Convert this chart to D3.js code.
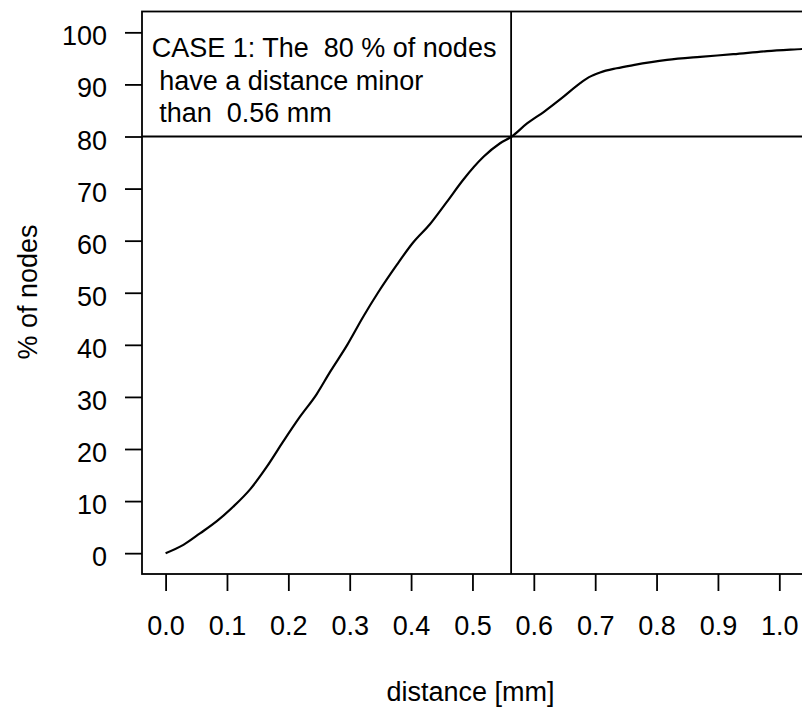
<!DOCTYPE html>
<html>
<head>
<meta charset="utf-8">
<script src="https://cdn.jsdelivr.net/npm/d3@7"></script>
<style>
  html, body { margin: 0; padding: 0; background: #fff; }
  svg text { font-family: "Liberation Sans", Arial, sans-serif; fill: #000; white-space: pre; }
</style>
</head>
<body>
<svg id="chart" width="802" height="709"></svg>
<script>
// ---- data ----
const distance = [0.000, 0.029, 0.056, 0.083, 0.110, 0.138, 0.165, 0.192, 0.219, 0.246,
  0.268, 0.296, 0.322, 0.346, 0.377, 0.403, 0.431, 0.458, 0.485, 0.518, 0.545, 0.564,
  0.589, 0.616, 0.648, 0.675, 0.690, 0.708, 0.735, 0.762, 0.817, 0.871, 0.925, 0.980, 1.037, 1.080];
const pctNodes = [0.0, 1.6, 3.8, 6.1, 8.9, 12.3, 16.6, 21.5, 26.2, 30.5,
  34.8, 40.0, 45.4, 50.0, 55.4, 59.6, 63.2, 67.4, 71.7, 76.1, 78.7, 80.0,
  82.5, 84.7, 87.6, 90.2, 91.4, 92.3, 93.1, 93.7, 94.7, 95.3, 95.8, 96.4, 96.8, 97.1];
const xTicks = [0.0, 0.1, 0.2, 0.3, 0.4, 0.5, 0.6, 0.7, 0.8, 0.9, 1.0];
const yTicks = [0, 10, 20, 30, 40, 50, 60, 70, 80, 90, 100];
const thresholdX = 0.563;
const thresholdY = 80;
const noteLines = ["CASE 1: The  80 % of nodes", " have a distance minor", " than  0.56 mm"];
const xTitle = "distance [mm]";
const yTitle = "% of nodes";

// ---- layout ----
const svg = d3.select("#chart");
const box = { left: 142, top: 11.5, right: 806, bottom: 574 };
const x = d3.scaleLinear().domain([0, 1]).range([165.6, 779.3]);
const y = d3.scaleLinear().domain([-4, 104]).range([box.bottom, box.top]);
const fs = 27;
const stroke = "#000";

svg.append("clipPath").attr("id", "clip")
  .append("rect").attr("x", box.left).attr("y", box.top)
  .attr("width", box.right - box.left).attr("height", box.bottom - box.top);

// plot box
svg.append("rect")
  .attr("x", box.left).attr("y", box.top)
  .attr("width", box.right - box.left).attr("height", box.bottom - box.top)
  .attr("fill", "none").attr("stroke", stroke).attr("stroke-width", 1.8);

// x axis
const xAxis = d3.axisBottom(x).tickValues(xTicks).tickFormat(d3.format(".1f"))
  .tickSize(17).tickPadding(0);
const gx = svg.append("g").attr("transform", `translate(0,${box.bottom})`).call(xAxis);
gx.select(".domain").remove();
gx.selectAll(".tick line").attr("stroke", stroke).attr("stroke-width", 1.8);
gx.selectAll(".tick text").attr("font-size", fs).attr("dy", null).attr("y", 61)
  .attr("font-family", "Liberation Sans, Arial, sans-serif").attr("fill", "#000");

// y axis
const yAxis = d3.axisLeft(y).tickValues(yTicks).tickFormat(d3.format("d"))
  .tickSize(17).tickPadding(0);
const gy = svg.append("g").attr("transform", `translate(${box.left},0)`).call(yAxis);
gy.select(".domain").remove();
gy.selectAll(".tick line").attr("stroke", stroke).attr("stroke-width", 1.8);
gy.selectAll(".tick text").attr("font-size", fs).attr("dy", null).attr("y", 12.5)
  .attr("x", -35).attr("text-anchor", "end")
  .attr("font-family", "Liberation Sans, Arial, sans-serif").attr("fill", "#000");

const plot = svg.append("g").attr("clip-path", "url(#clip)");

// reference lines
plot.append("line")
  .attr("x1", x(thresholdX)).attr("x2", x(thresholdX))
  .attr("y1", box.top).attr("y2", box.bottom)
  .attr("stroke", stroke).attr("stroke-width", 1.8);
plot.append("line")
  .attr("x1", box.left).attr("x2", box.right)
  .attr("y1", y(thresholdY)).attr("y2", y(thresholdY))
  .attr("stroke", stroke).attr("stroke-width", 1.8);

// curve
const pts = distance.map((d, i) => [d, pctNodes[i]]);
plot.append("path")
  .datum(pts)
  .attr("fill", "none").attr("stroke", stroke).attr("stroke-width", 2.2)
  .attr("stroke-linejoin", "round")
  .attr("d", d3.line().curve(d3.curveMonotoneX).x(d => x(d[0])).y(d => y(d[1])));

// annotation
const note = svg.append("text").attr("font-size", fs);
noteLines.forEach((t, i) => {
  note.append("tspan").attr("x", 151.7).attr("y", 57 + i * 32.5).text(t);
});

// axis titles
svg.append("text").attr("font-size", fs).attr("text-anchor", "middle")
  .attr("x", 470.5).attr("y", 701).text(xTitle);
svg.append("text").attr("font-size", fs).attr("text-anchor", "middle")
  .attr("transform", "translate(36.5,292) rotate(-90)").text(yTitle);
</script>
</body>
</html>
